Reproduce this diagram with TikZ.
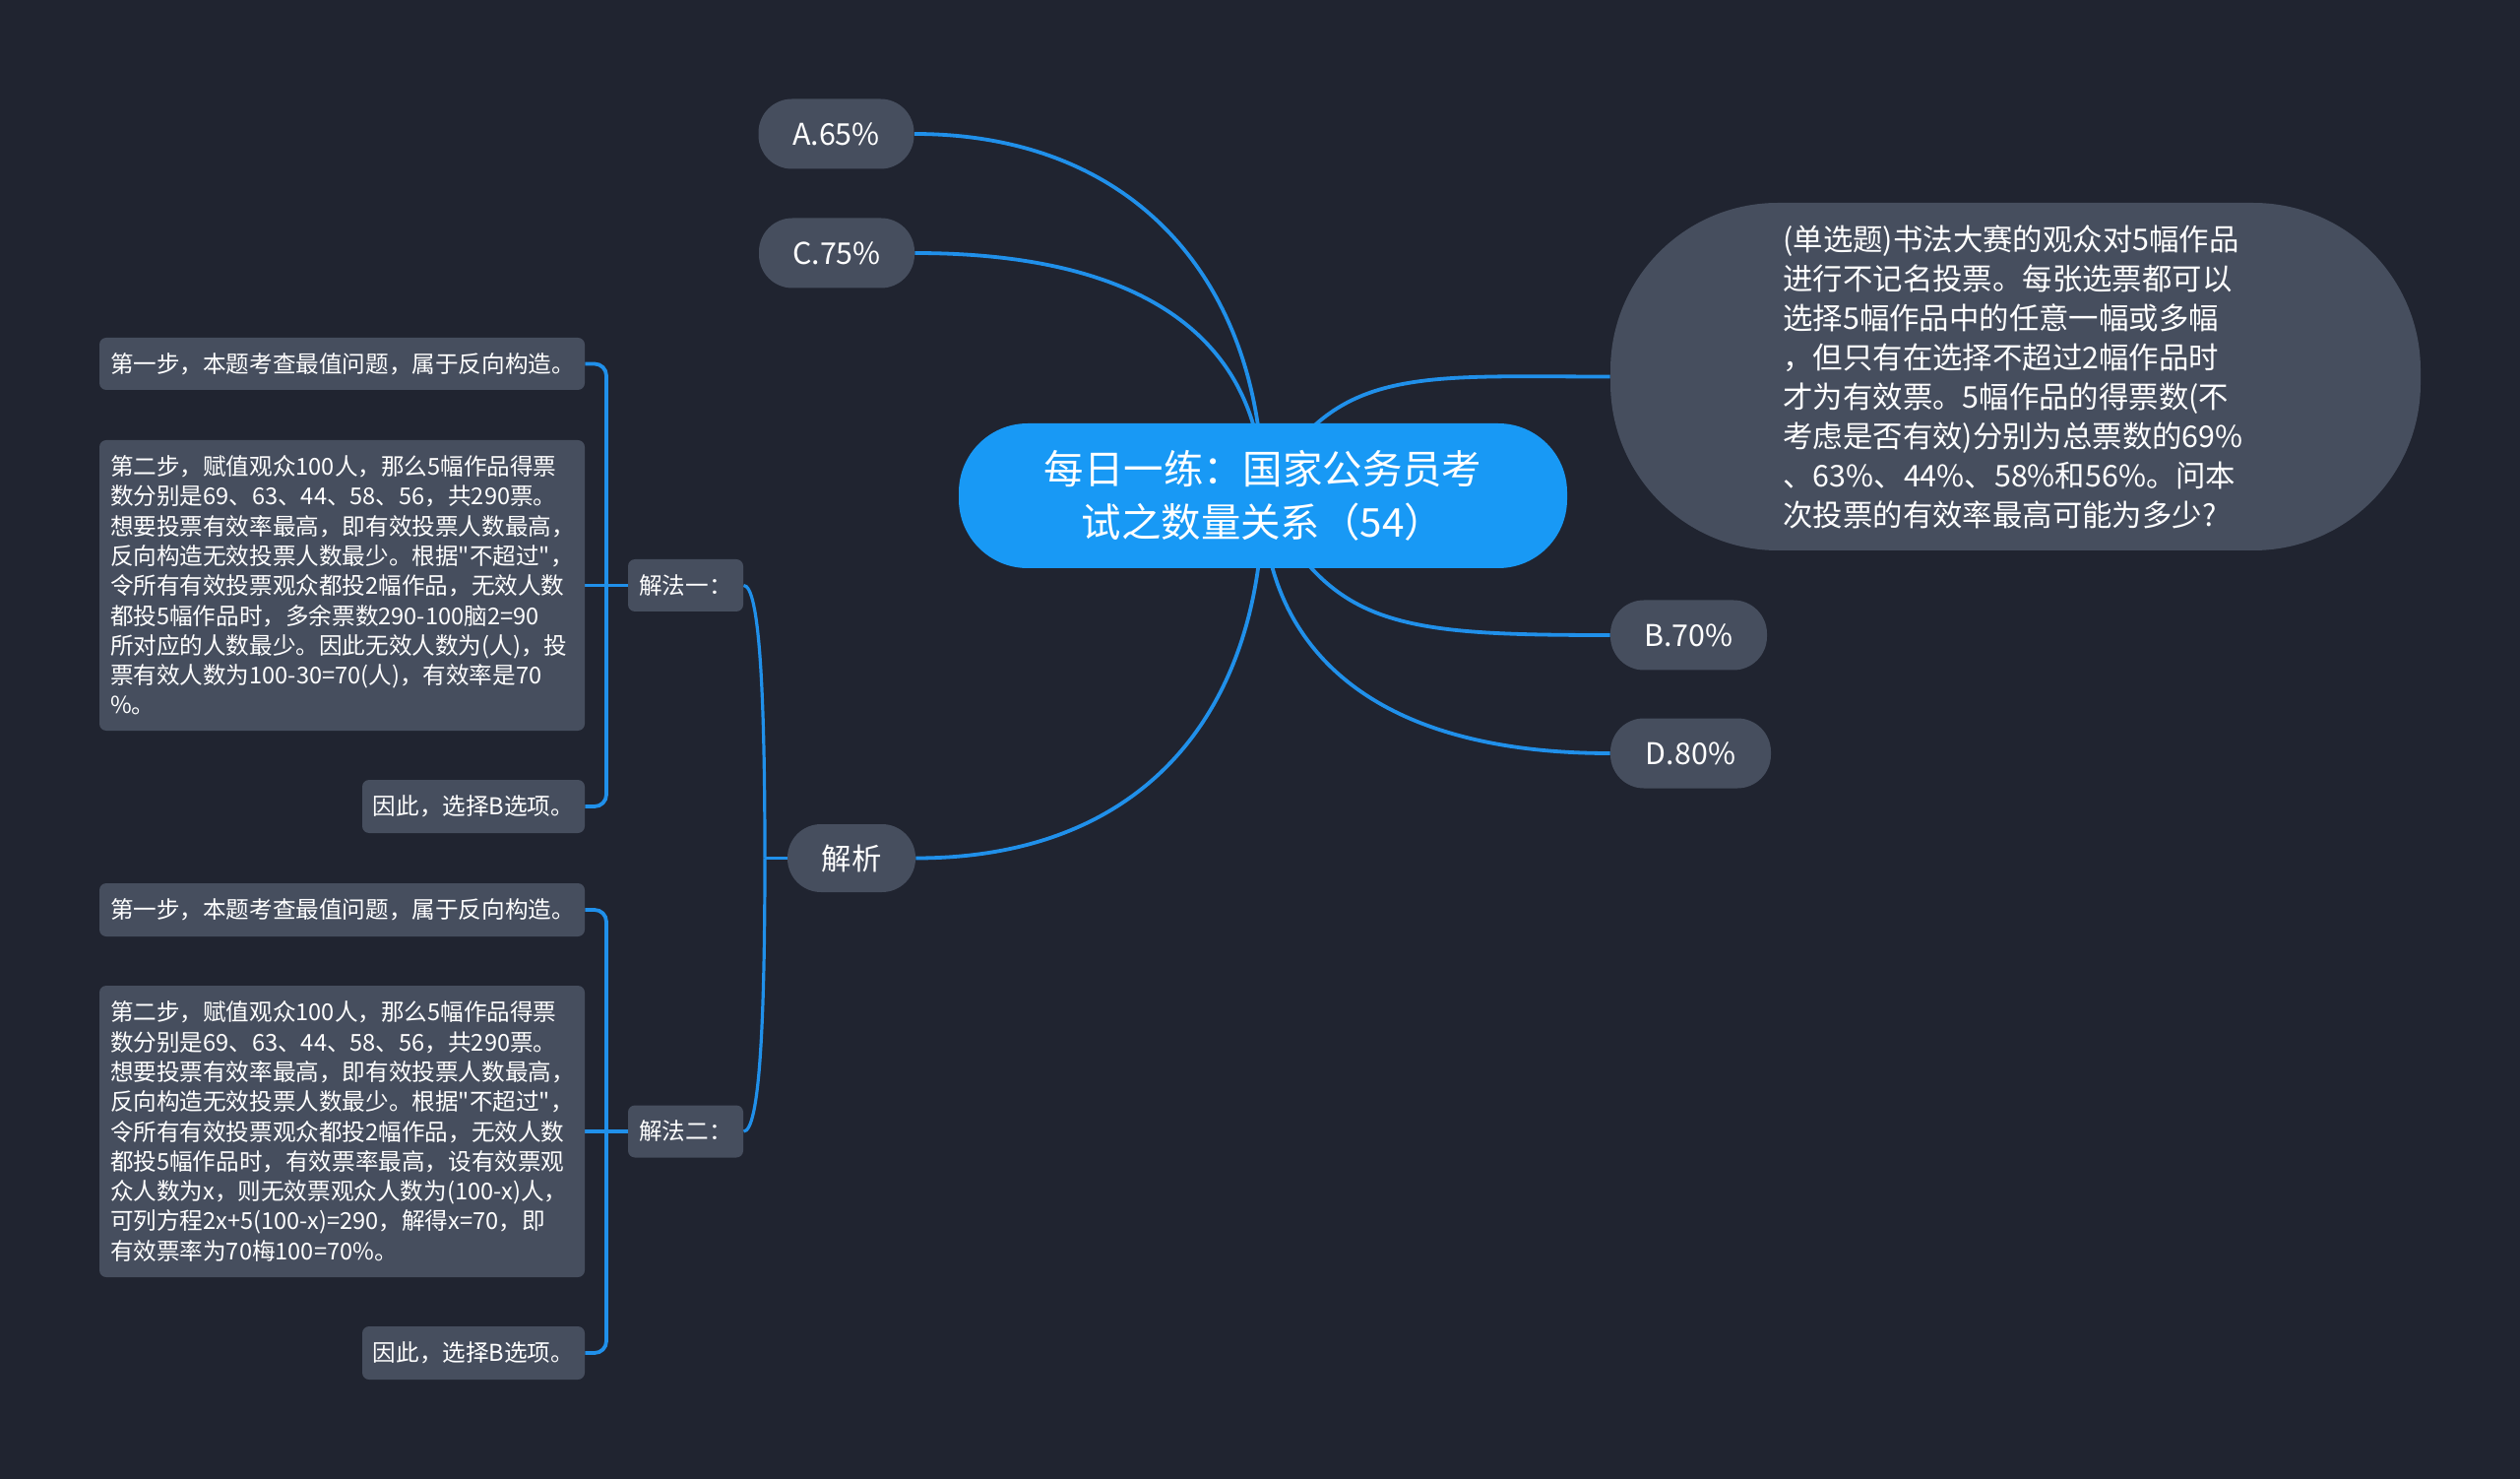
\documentclass[tikz,border=0pt]{standalone}
\usepackage{fontspec}
\setmainfont[Ligatures=TeXOff]{Noto Sans CJK SC}
\usetikzlibrary{backgrounds}
\definecolor{bgdark}{HTML}{202430}
\definecolor{nodegray}{HTML}{464E5E}
\definecolor{rootblue}{HTML}{1899F5}
\definecolor{wireblue}{HTML}{2090EA}

\begin{document}
\begin{tikzpicture}[x=0.5pt, y=-0.5pt,
    topic/.style={fill=nodegray, text=white, inner sep=0pt, rounded corners=17pt, minimum height=35.5pt, font=\fontsize{15.2}{20}\selectfont},
    stepbox/.style={fill=nodegray, text=white, inner sep=0pt, rounded corners=3.5pt, font=\fontsize{11.8}{15.15}\selectfont},
    wire/.style={draw=wireblue, line width=1.9pt},
    thinwire/.style={draw=wireblue, line width=1.6pt}]
    \useasboundingbox (0,0) rectangle (2560,1502);
    % Root and the options around it
    \node[fill=rootblue, text=white, inner sep=0pt, rounded corners=35pt, minimum width=309pt, minimum height=73.5pt, align=center, font=\fontsize{20.2}{27}\selectfont] (root) at (1283,503.5) {每日一练：国家公务员考\\试之数量关系（54）};
    \node[topic, minimum width=79pt] (optA) at (849.5,136) {A.65\%};
    \node[topic, minimum width=79pt] (optC) at (850,257) {C.75\%};
    \node[topic, minimum width=79.5pt] (optB) at (1715.5,645) {B.70\%};
    \node[topic, minimum width=81.5pt] (optD) at (1717.5,765) {D.80\%};
    \node[topic, minimum width=65pt, minimum height=34.5pt] (answer) at (865,871.5) {解析};
    \node[fill=nodegray, text=white, inner sep=0pt, rounded corners=85pt, minimum width=411.5pt, minimum height=176.5pt, text width=236pt, align=left, font=\fontsize{15.2}{20}\selectfont] (question) at (2047.5,382.5) {(单选题)书法大赛的观众对5幅作品\\进行不记名投票。每张选票都可以\\选择5幅作品中的任意一幅或多幅\\，但只有在选择不超过2幅作品时\\才为有效票。5幅作品的得票数(不\\考虑是否有效)分别为总票数的69\%\\、63\%、44\%、58\%和56\%。问本\\次投票的有效率最高可能为多少?};

    % First method
    \node[stepbox, minimum width=58.5pt, minimum height=26.5pt] (methodA) at (696.5,594.5) {解法一：};
    \node[stepbox, minimum width=246.5pt, minimum height=26.5pt, text width=235.5pt, align=left] (stepAa) at (347.5,369.5) {第一步，本题考查最值问题，属于反向构造。};
    \node[stepbox, minimum width=246.5pt, minimum height=147.5pt, text width=235.5pt, align=left] (stepAb) at (347.5,594.5) {第二步，赋值观众100人，那么5幅作品得票\\数分别是69、63、44、58、56，共290票。\\想要投票有效率最高，即有效投票人数最高，\\反向构造无效投票人数最少。根据"不超过"，\\令所有有效投票观众都投2幅作品，无效人数\\都投5幅作品时，多余票数290-100脑2=90\\所对应的人数最少。因此无效人数为(人)，投\\票有效人数为100-30=70(人)，有效率是70\\\%。};
    \node[stepbox, minimum width=113pt, minimum height=27pt] (stepAc) at (481,819) {因此，选择B选项。};

    % Second method
    \node[stepbox, minimum width=58.5pt, minimum height=26.5pt] (methodB) at (696.5,1149) {解法二：};
    \node[stepbox, minimum width=246.5pt, minimum height=27pt, text width=235.5pt, align=left] (stepBa) at (347.5,924) {第一步，本题考查最值问题，属于反向构造。};
    \node[stepbox, minimum width=246.5pt, minimum height=148pt, text width=235.5pt, align=left] (stepBb) at (347.5,1149) {第二步，赋值观众100人，那么5幅作品得票\\数分别是69、63、44、58、56，共290票。\\想要投票有效率最高，即有效投票人数最高，\\反向构造无效投票人数最少。根据"不超过"，\\令所有有效投票观众都投2幅作品，无效人数\\都投5幅作品时，有效票率最高，设有效票观\\众人数为x，则无效票观众人数为(100-x)人，\\可列方程2x+5(100-x)=290，解得x=70，即\\有效票率为70梅100=70\%。};
    \node[stepbox, minimum width=113pt, minimum height=27pt] (stepBc) at (481,1374) {因此，选择B选项。};

    \coordinate (busA) at (616,594.5);
    \coordinate (busB) at (616,1149);
    \coordinate (busMid) at (777,871.5);

    \begin{scope}[on background layer]
        \fill[bgdark] (0,0) rectangle (2560,1502);
        \draw[wire] (optA.east) .. controls +(230,0) and +(0,-210) .. (root.center);
        \draw[wire] (optC.east) .. controls +(270,0) and +(0,-130) .. (root.center);
        \draw[wire] (question.west) .. controls +(-200,0) and +(70,-133) .. (root.center);
        \draw[wire] (optB.west) .. controls +(-220,0) and +(70,133) .. (root.center);
        \draw[wire] (optD.west) .. controls +(-270,0) and +(0,130) .. (root.center);
        \draw[wire] (answer.east) .. controls +(240,0) and +(0,210) .. (root.center);
        \draw[thinwire] (methodA.east) .. controls +(16,0) and +(0,-170) .. (busMid);
        \draw[thinwire] (methodB.east) .. controls +(16,0) and +(0,170) .. (busMid);
        \draw[thinwire] (busMid) -- (answer.west);
        \draw[wire, rounded corners=6pt] (stepAa.east) -| (busA) |- (stepAc.east);
        \draw[wire] (stepAb.east) -- (methodA.west);
        \draw[wire, rounded corners=6pt] (stepBa.east) -| (busB) |- (stepBc.east);
        \draw[wire] (stepBb.east) -- (methodB.west);
    \end{scope}
\end{tikzpicture}
\end{document}
